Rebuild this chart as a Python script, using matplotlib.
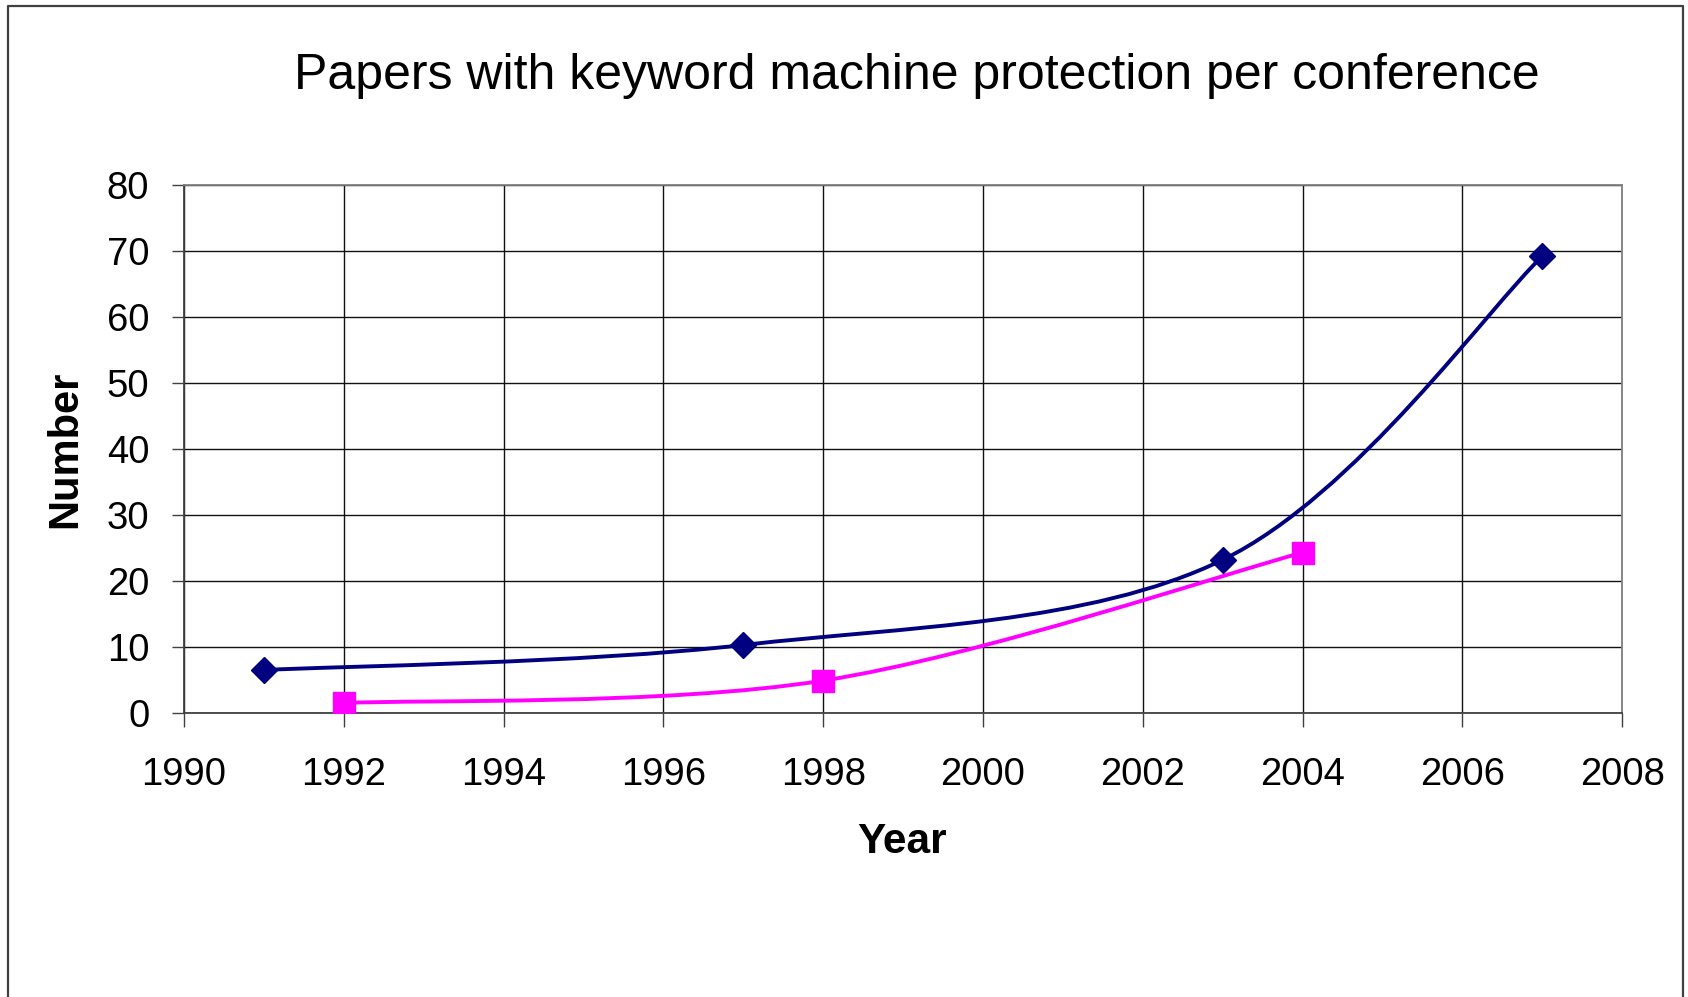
import numpy as np
import matplotlib.pyplot as plt
from matplotlib.path import Path
from matplotlib.patches import PathPatch
from matplotlib.lines import Line2D

plt.rcParams['font.family'] = ['Liberation Sans', 'DejaVu Sans']

# papers per conference, two series
years_a = [1991, 1997, 2003, 2007]
count_a = [6.5, 10.3, 23.2, 69.2]
years_b = [1992, 1998, 2004]
count_b = [1.5, 4.9, 24.3]

x_ticks = list(range(1990, 2009, 2))
y_ticks = list(range(0, 81, 10))


def smooth_path(xs, ys):
    '''
    Bezier path through the points, spreadsheet style smoothing
    '''
    pts = np.column_stack([xs, ys]).astype(float)
    n = len(pts)
    verts = [pts[0]]
    codes = [Path.MOVETO]
    for i in range(n - 1):
        p0 = pts[max(i - 1, 0)]
        p1 = pts[i]
        p2 = pts[i + 1]
        p3 = pts[min(i + 2, n - 1)]
        c1 = p1 + (p2 - p0) / 6.0
        c2 = p2 - (p3 - p1) / 6.0
        verts += [c1, c2, p2]
        codes += [Path.CURVE4] * 3
    return Path(verts, codes)


fig = plt.figure(figsize=(16.88, 9.97), dpi=100)
ax = fig.add_axes([0.109, 0.2849, 0.852, 0.5295])

ax.set_xlim(1990, 2008)
ax.set_ylim(0, 80)
ax.set_xticks(x_ticks)
ax.set_yticks(y_ticks)
ax.grid(True, color='#111111', linewidth=1.0)
ax.set_axisbelow(True)

for side in ['top', 'right']:
    ax.spines[side].set_color('#808080')
    ax.spines[side].set_linewidth(1.3)
for side in ['left', 'bottom']:
    ax.spines[side].set_color('#404040')
    ax.spines[side].set_linewidth(1.3)

ax.tick_params(axis='x', direction='out', length=10, width=1, color='#404040',
               labelsize=27.5, pad=22)
ax.tick_params(axis='y', direction='out', length=9, width=1, color='#404040',
               labelsize=27.5, pad=16)

# smoothed lines
ax.add_patch(PathPatch(smooth_path(years_a, count_a), fill=False,
                       edgecolor='#000080', linewidth=2.8, zorder=3))
ax.add_patch(PathPatch(smooth_path(years_b, count_b), fill=False,
                       edgecolor='#FF00FF', linewidth=2.8, zorder=3))

# markers
ax.plot(years_a, count_a, ls='none', marker='D', ms=13.5, color='#000080', zorder=4)
ax.plot(years_b, count_b, ls='none', marker='s', ms=16.5, color='#FF00FF', zorder=4)

fig.text(0.5433, 0.9235, 'Papers with keyword machine protection per conference',
         ha='center', va='center', fontsize=36)
fig.text(0.5347, 0.1555, 'Year', ha='center', va='center', fontsize=30.5,
         fontweight='bold')
fig.text(0.0385, 0.5497, 'Number', ha='center', va='center', fontsize=30,
         fontweight='bold', rotation=90)

# outer frame (left, top, right)
fig.add_artist(Line2D([0.0047, 0.0047, 0.9973, 0.9973], [0.0, 0.994, 0.994, 0.0],
                      transform=fig.transFigure, color='#404040', linewidth=1.6))

fig.savefig('out.png', dpi=100, facecolor='white')
